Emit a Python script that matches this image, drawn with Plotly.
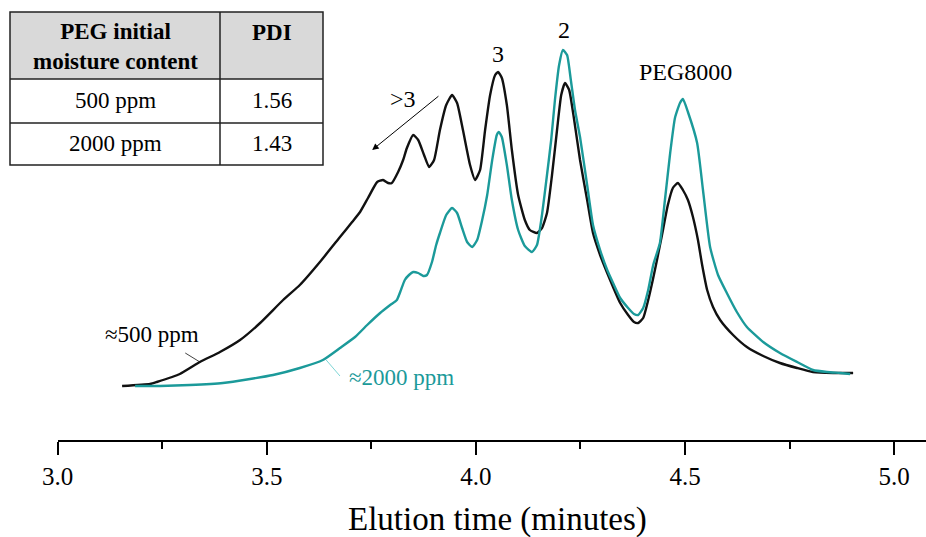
import plotly.graph_objects as go

# ---- data (elution time in minutes, detector signal in arbitrary units) ----
t_500 = [3.154, 3.221, 3.237, 3.292, 3.340, 3.388, 3.436, 3.484, 3.539, 3.579, 3.627, 3.675,
         3.704, 3.723, 3.742, 3.764, 3.778, 3.790, 3.799, 3.814, 3.826, 3.835, 3.850, 3.862,
         3.876, 3.888, 3.900, 3.914, 3.929, 3.943, 3.955, 3.969, 3.986, 3.998, 4.010, 4.022,
         4.034, 4.046, 4.053, 4.062, 4.074, 4.086, 4.101, 4.117, 4.129, 4.146, 4.158, 4.170,
         4.182, 4.194, 4.204, 4.213, 4.223, 4.235, 4.249, 4.266, 4.280, 4.297, 4.314, 4.328,
         4.345, 4.364, 4.378, 4.388, 4.400, 4.412, 4.424, 4.433, 4.445, 4.459, 4.471, 4.483,
         4.495, 4.507, 4.519, 4.531, 4.541, 4.553, 4.567, 4.584, 4.615, 4.648, 4.687, 4.727,
         4.768, 4.806, 4.854, 4.902]
s_500 = [0, 2, 4, 12, 24, 34, 46, 63, 86, 101, 124, 149,
         164, 174, 188, 204, 206, 203, 203, 214, 226, 238, 251, 246,
         231, 219, 226, 256, 281, 291, 283, 256, 221, 206, 216, 256,
         291, 311, 314, 308, 281, 236, 191, 166, 156, 153, 158, 173,
         211, 256, 291, 303, 296, 266, 226, 186, 153, 131, 113, 99,
         83, 71, 64, 63, 68, 86, 108, 126, 151, 181, 198, 203,
         196, 186, 169, 146, 121, 96, 79, 66, 51, 39, 30, 23,
         18, 14, 13, 13]

t_2000 = [3.185, 3.245, 3.316, 3.395, 3.460, 3.515, 3.579, 3.634, 3.675, 3.711, 3.740, 3.771,
          3.795, 3.811, 3.819, 3.830, 3.840, 3.850, 3.862, 3.874, 3.883, 3.895, 3.905, 3.914,
          3.929, 3.943, 3.955, 3.967, 3.979, 3.991, 4.003, 4.015, 4.027, 4.039, 4.050, 4.055,
          4.062, 4.074, 4.086, 4.101, 4.117, 4.134, 4.146, 4.158, 4.170, 4.180, 4.189, 4.199,
          4.208, 4.218, 4.227, 4.237, 4.249, 4.266, 4.280, 4.297, 4.314, 4.328, 4.345, 4.364,
          4.378, 4.388, 4.400, 4.412, 4.424, 4.440, 4.452, 4.464, 4.476, 4.488, 4.495, 4.507,
          4.529, 4.543, 4.560, 4.579, 4.600, 4.624, 4.648, 4.687, 4.727, 4.768, 4.806, 4.840,
          4.871, 4.895]
s_2000 = [0, 0, 1, 3, 7, 11, 18, 26, 38, 49, 61, 73,
          81, 86, 94, 106, 111, 114, 113, 110, 111, 124, 141, 153,
          171, 178, 173, 158, 144, 139, 146, 166, 191, 226, 251, 254,
          249, 221, 186, 156, 140, 134, 141, 171, 211, 246, 286, 321,
          336, 331, 306, 276, 249, 201, 161, 136, 116, 103, 88, 78,
          72, 71, 78, 96, 121, 143, 186, 231, 268, 283, 287, 274,
          243, 196, 139, 111, 93, 74, 59, 44, 33, 24, 16, 14,
          13, 12]

tick_vals = [3.0, 3.5, 4.0, 4.5, 5.0]
tick_text = ["3.0", "3.5", "4.0", "4.5", "5.0"]

table_header = ["PEG initial<br>moisture content", "PDI"]
table_moisture = ["500 ppm", "2000 ppm"]
table_pdi = ["1.56", "1.43"]

BLACK = "#111111"
TEAL = "#1b9a9a"
FONT = "Liberation Serif, Times New Roman, serif"
W, H = 926, 537


def fx(px):
    return px / W


def fy(py):
    return 1 - py / H


def txt(**kw):
    d = dict(showarrow=False, xanchor="center", yanchor="middle")
    d.update(kw)
    return d


fig = go.Figure()
fig.add_trace(go.Scatter(x=t_500, y=s_500, mode="lines",
                         line=dict(color=BLACK, width=2.4, shape="spline", smoothing=0.5),
                         hoverinfo="skip"))
fig.add_trace(go.Scatter(x=t_2000, y=s_2000, mode="lines",
                         line=dict(color=TEAL, width=2.4, shape="spline", smoothing=0.5),
                         hoverinfo="skip"))

# pointer lines for curve labels
fig.add_trace(go.Scatter(x=[3.305, 3.340], y=[33, 24], mode="lines",
                         line=dict(color=BLACK, width=0.8), hoverinfo="skip"))
fig.add_trace(go.Scatter(x=[3.642, 3.675], y=[26, 10], mode="lines",
                         line=dict(color="#5ccaca", width=0.8), hoverinfo="skip"))

annotations = [
    txt(x=4.053, y=332, text="3", font=dict(size=24, color="black", family=FONT)),
    txt(x=4.211, y=356, text="2", font=dict(size=24, color="black", family=FONT)),
    txt(x=4.500, y=314, text="PEG8000", font=dict(size=24, color="black", family=FONT)),
    txt(x=3.826, y=287, text="&gt;3", font=dict(size=24, color="black", family=FONT)),
    dict(x=3.752, y=236, ax=3.914, ay=291, axref="x", ayref="y", text="", showarrow=True,
         arrowhead=2, arrowsize=1.3, arrowwidth=1, arrowcolor="black"),
    txt(x=3.226, y=52, text="≈500 ppm", font=dict(size=23, color="black", family=FONT)),
    txt(x=3.823, y=9, text="≈2000 ppm", font=dict(size=23, color=TEAL, family=FONT)),
    txt(x=fx(498), y=fy(519), xref="paper", yref="paper", text="Elution time (minutes)",
        font=dict(size=33, color="black", family=FONT)),
]

# table
tx0, tx1, tdiv = 10, 323, 220
ty0, ty1, ty2, ty3 = 12, 79, 123, 165
col_c = [(tx0 + tdiv) / 2, (tdiv + tx1) / 2]
shapes = [
    dict(type="rect", xref="paper", yref="paper", x0=fx(tx0), x1=fx(tx1), y0=fy(ty0), y1=fy(ty1),
         fillcolor="#d9d9d9", line=dict(width=0), layer="below"),
    dict(type="rect", xref="paper", yref="paper", x0=fx(tx0), x1=fx(tx1), y0=fy(ty0), y1=fy(ty3),
         line=dict(color="#222", width=1.5)),
    dict(type="line", xref="paper", yref="paper", x0=fx(tx0), x1=fx(tx1), y0=fy(ty1), y1=fy(ty1),
         line=dict(color="#222", width=1.5)),
    dict(type="line", xref="paper", yref="paper", x0=fx(tx0), x1=fx(tx1), y0=fy(ty2), y1=fy(ty2),
         line=dict(color="#222", width=1.5)),
    dict(type="line", xref="paper", yref="paper", x0=fx(tdiv), x1=fx(tdiv), y0=fy(ty0), y1=fy(ty3),
         line=dict(color="#222", width=1.5)),
]
header_y = [47, 32]
for i, h in enumerate(table_header):
    annotations.append(txt(x=fx(col_c[i]), y=fy(header_y[i]), xref="paper", yref="paper",
                           text="<b>" + h + "</b>",
                           font=dict(size=23, color="black", family=FONT)))
row_y = [101, 144]
for j in range(len(table_moisture)):
    annotations.append(txt(x=fx(col_c[0]), y=fy(row_y[j]), xref="paper", yref="paper",
                           text=table_moisture[j],
                           font=dict(size=23, color="black", family=FONT)))
    annotations.append(txt(x=fx(col_c[1]), y=fy(row_y[j]), xref="paper", yref="paper",
                           text=table_pdi[j],
                           font=dict(size=23, color="black", family=FONT)))

x0 = 3.0
x1 = 3.0 + (W - 57.7) / 418.2
fig.update_layout(
    width=W, height=H,
    margin=dict(l=0, r=0, t=0, b=0, autoexpand=False),
    paper_bgcolor="white", plot_bgcolor="white",
    showlegend=False,
    xaxis=dict(domain=[57.7 / W, 1], range=[x0, x1], showgrid=False, zeroline=False,
               automargin=False,
               showline=True, linecolor="black", linewidth=2,
               ticks="outside", ticklen=13, tickwidth=2, tickcolor="black",
               tickvals=tick_vals, ticktext=tick_text,
               tickfont=dict(family=FONT, size=25, color="black"),
               minor=dict(ticks="outside", ticklen=7, tickwidth=2, tickcolor="black",
                          tickvals=[3.25, 3.75, 4.25, 4.75, 5.25])),
    yaxis=dict(domain=[1 - 440 / H, 1], range=[-54, 386], visible=False, automargin=False),
    annotations=annotations,
    shapes=shapes,
)

fig.write_html("out.html")
